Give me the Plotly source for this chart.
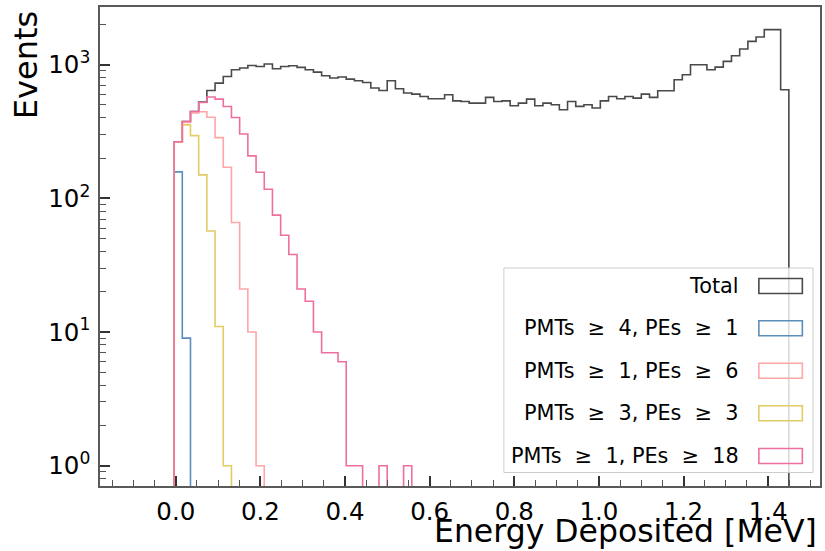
import numpy as np
import plotly.graph_objects as go

# ---------------- data ----------------
E_MIN, E_MAX, N_BINS = -0.004, 1.449, 75
bin_edges = np.linspace(E_MIN, E_MAX, N_BINS + 1)

series_names = ["Total",
                "PMTs \u00a0\u2265\u00a0 4, PEs \u00a0\u2265\u00a0 1",
                "PMTs \u00a0\u2265\u00a0 1, PEs \u00a0\u2265\u00a0 6",
                "PMTs \u00a0\u2265\u00a0 3, PEs \u00a0\u2265\u00a0 3",
                "PMTs \u00a0\u2265\u00a0 1, PEs \u00a0\u2265\u00a0 18"]

total_counts = [265, 376, 447, 525, 642, 729, 817, 917, 945, 988,
                971, 1012, 933, 971, 983, 955, 917, 881, 827, 795,
                809, 781, 759, 737, 669, 642, 759, 661, 614, 603,
                579, 556, 556, 596, 537, 531, 516, 516, 570, 531,
                537, 493, 516, 553, 493, 516, 502, 460, 531, 488,
                502, 474, 537, 579, 556, 579, 563, 603, 570, 638,
                638, 772, 842, 1000, 1000, 917, 960, 1059, 1168, 1311,
                1496, 1612, 1830, 1830, 650]
pmt4_pe1_counts = [158, 9]
pmt1_pe6_counts = [265, 370, 435, 445, 405, 285, 171, 66, 21, 10, 1]
pmt3_pe3_counts = [265, 355, 295, 150, 57, 11, 1]
pmt1_pe18_counts = [265, 376, 447, 522, 573, 553, 487, 403, 303, 208,
                    157, 117, 75, 53, 38, 21, 17, 10, 7, 7,
                    6, 1, 1, 0, 0, 1, 0, 0, 1]

all_counts = [total_counts, pmt4_pe1_counts, pmt1_pe6_counts,
              pmt3_pe3_counts, pmt1_pe18_counts]
colors = ["#4a4a4a", "#5b8fba", "#ffa6a6", "#e2cc66", "#ee6f9f"]

x_ticks = [0.0, 0.2, 0.4, 0.6, 0.8, 1.0, 1.2, 1.4]
y_ticks = [1, 10, 100, 1000]
y_tick_text = ["10<sup>0</sup>", "10<sup>1</sup>", "10<sup>2</sup>", "10<sup>3</sup>"]
y_minor = [m * 10 ** k for k in range(-1, 4) for m in range(2, 10)]

FLOOR = 1e-3  # zero-count level, below visible range


def step_xy(counts):
    vals = [c if c > 0 else FLOOR for c in counts]
    n = len(vals)
    xs = [bin_edges[0]] + list(bin_edges[:n + 1])
    ys = [FLOOR] + vals + [FLOOR]
    return xs, ys


fig = go.Figure()
for name, counts, col in zip(series_names, all_counts, colors):
    xs, ys = step_xy(counts)
    fig.add_trace(go.Scatter(x=xs, y=ys, mode="lines", line_shape="hv",
                             line=dict(color=col, width=1.6),
                             name=name, showlegend=False, hoverinfo="skip"))

# dummy trace for minor-tick overlay axis
fig.add_trace(go.Scatter(x=[None], y=[None], yaxis="y2", showlegend=False,
                         hoverinfo="skip"))

# ---------------- layout ----------------
W, H = 825, 551
L, R, T, B = 100, 822, 7, 486


def px(x):
    return (x - L) / (R - L)


def py(y):
    return (B - y) / (B - T)


FONT = "DejaVu Sans"
TICK_SIZE = 24.5

fig.update_layout(
    width=W, height=H,
    margin=dict(l=L, r=W - R, t=T, b=H - B),
    paper_bgcolor="white", plot_bgcolor="white",
    font=dict(family=FONT, color="black"),
    xaxis=dict(range=[-0.1791, 1.5226], tickvals=x_ticks, tickformat=".1f",
               ticks="inside", ticklen=10, tickwidth=1.5, tickcolor="#333",
               minor=dict(dtick=0.05, tick0=0, ticks="inside", ticklen=6,
                          tickwidth=1, tickcolor="#555"),
               showline=True, mirror=True, linecolor="#5a5a5a", linewidth=1.6,
               showgrid=False, zeroline=False,
               tickfont=dict(size=TICK_SIZE, family=FONT), ticklabelstandoff=3),
    yaxis=dict(type="log", range=[-0.152, 3.432], tickvals=y_ticks,
               ticktext=y_tick_text, ticks="inside", ticklen=10, tickwidth=1.5,
               tickcolor="#333", showline=True, mirror=True,
               linecolor="#5a5a5a", linewidth=1.6, showgrid=False,
               zeroline=False, tickfont=dict(size=TICK_SIZE, family=FONT),
               ticklabelstandoff=3),
    yaxis2=dict(type="log", range=[-0.152, 3.432], overlaying="y", side="left",
                anchor="x", tickvals=y_minor, ticks="inside", ticklen=6,
                tickwidth=1, tickcolor="#555", showticklabels=False,
                showline=False, showgrid=False, zeroline=False),
)

annotations = [
    dict(text="Energy Deposited [MeV]", xref="paper", yref="paper",
         x=px(821), y=py(530.5), xanchor="right", yanchor="middle",
         showarrow=False, font=dict(size=31.5, family=FONT)),
    dict(text="Events", xref="paper", yref="paper", x=px(26), y=py(9),
         xanchor="center", yanchor="top", textangle=-90, showarrow=False,
         font=dict(size=32, family=FONT)),
]

shapes = [
    dict(type="rect", xref="paper", yref="paper", x0=px(505), x1=px(815),
         y0=py(472.5), y1=py(268), line=dict(color="#cccccc", width=1),
         fillcolor="rgba(255,255,255,0.8)", layer="above"),
]

row_y = [286, 328.3, 370.7, 413.3, 456]
for name, col, yy in zip(series_names, colors, row_y):
    annotations.append(dict(text=name, xref="paper", yref="paper",
                            x=px(742.5), y=py(yy), xanchor="right",
                            yanchor="middle", showarrow=False,
                            font=dict(size=20.8, family=FONT)))
    shapes.append(dict(type="rect", xref="paper", yref="paper",
                       x0=px(760.7), x1=px(804.3), y0=py(yy + 7.5),
                       y1=py(yy - 7.5), line=dict(color=col, width=1.6),
                       fillcolor="rgba(0,0,0,0)", layer="above"))

fig.update_layout(annotations=annotations, shapes=shapes)
fig.write_html("out.html",
               config={"displayModeBar": False},
               post_script="document.body.style.margin='0';"
                           "document.body.style.padding='0';")
